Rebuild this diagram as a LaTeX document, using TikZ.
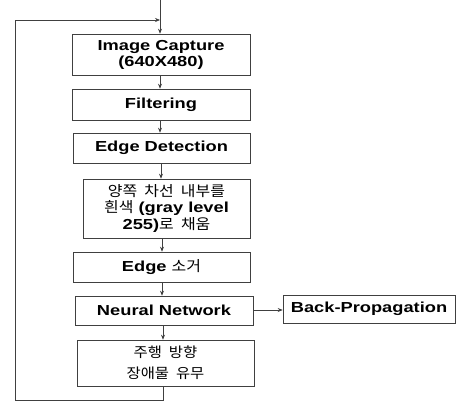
\documentclass[tikz,border=0pt]{standalone}
\usepackage{fontspec}
\setmainfont{Liberation Sans}[FakeStretch=1.26]
\newfontfamily\kr{Noto Sans CJK KR}[FakeStretch=1.1]
\usetikzlibrary{arrows.meta}
\begin{document}
\begin{tikzpicture}[x=1pt,y=-1pt,
  box/.style={draw=black!75, line width=0.6pt, inner sep=0pt, align=center,
    font=\fontsize{14.5}{16}\selectfont\bfseries},
  conn/.style={draw=black!75, line width=0.6pt},
  arr/.style={conn, -{Stealth[length=5pt,width=4pt]}}]
\useasboundingbox (0,0) rectangle (457,402);
\node[box, minimum width=178pt, minimum height=41pt] (cap) at (161,54.5) {Image Capture\\(640X480)};
\node[box, minimum width=178pt, minimum height=31pt] (filt) at (161,104.5) {Filtering};
\node[box, minimum width=177pt, minimum height=30pt] (edge) at (161.5,148) {Edge Detection};
\node[box, minimum width=167pt, minimum height=59pt, font=\fontsize{14.5}{16.5}\selectfont\bfseries] (kor) at (166.5,208.5)
  {{\kr\mdseries 양쪽\ \ 차선\ \ 내부를}\\{\kr\mdseries 흰색} (gray level\\255){\kr\mdseries 로\ \ 채움}};
\node[box, minimum width=177pt, minimum height=30pt] (rem) at (161.5,267) {Edge {\kr\mdseries 소거}};
\node[box, minimum width=178pt, minimum height=29pt] (nn) at (164,310.5) {Neural Network};
\node[box, minimum width=172pt, minimum height=28pt] (bp) at (369,309) {Back-Propagation};
\node[box, minimum width=177pt, minimum height=46pt, font=\fontsize{14}{21}\selectfont\kr] (last) at (165.5,363)
  {주행\ \ 방향\\장애물\ \ 유무};
\coordinate (top) at (160,0);
\coordinate (j) at (160,20);
\coordinate (lb) at (163,400);
\coordinate (ll) at (15,400);
\coordinate (lt) at (15,20);
\draw[arr] (top) -- (top |- cap.north);
\draw[arr] (160,0 |- cap.south) -- (160,0 |- filt.north);
\draw[arr] (160,0 |- filt.south) -- (160,0 |- edge.north);
\draw[arr] (161,0 |- edge.south) -- (161,0 |- kor.north);
\draw[arr] (162,0 |- kor.south) -- (162,0 |- rem.north);
\draw[arr] (162,0 |- rem.south) -- (162,0 |- nn.north);
\draw[arr] (163,0 |- nn.south) -- (163,0 |- last.north);
\draw[arr] (nn.east |- 0,310) -- (bp.west |- 0,310);
\draw[conn] (163,0 |- last.south) -- (lb) -- (ll) -- (lt);
\draw[arr] (lt) -- (j);
\end{tikzpicture}
\end{document}
